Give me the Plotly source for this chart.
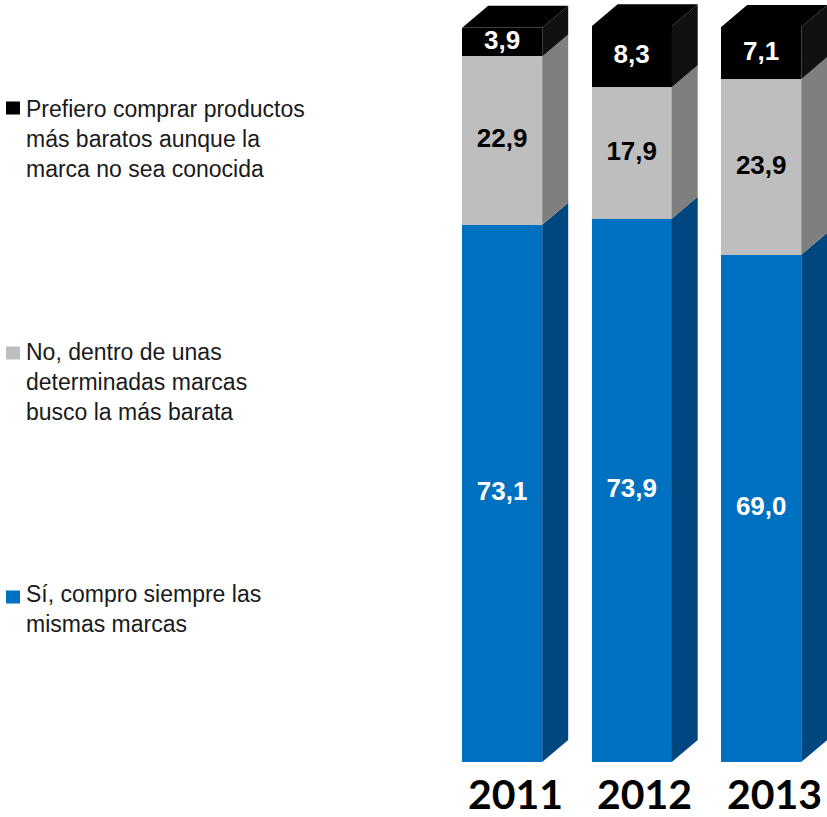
import plotly.graph_objects as go

years = ["2011", "2012", "2013"]
series_names = [
    "Sí, compro siempre las<br>mismas marcas",
    "No, dentro de unas<br>determinadas marcas<br>busco la más barata",
    "Prefiero comprar productos<br>más baratos aunque la<br>marca no sea conocida",
]
siempre = [73.1, 73.9, 69.0]
dentro = [22.9, 17.9, 23.9]
prefiero = [3.9, 8.3, 7.1]

series = [siempre, dentro, prefiero]
front_colors = ["#0070C0", "#BEBEBE", "#000000"]
side_colors = ["#00467F", "#7F7F7F", "#111111"]
label_colors = ["white", "black", "white"]

W, H = 827, 817
px_per_y = 7.35
bottom_px = 762
xs = list(range(len(years)))
bar_w = 0.618
dx = 26 / 129.5
dy = 22 / px_per_y

fig = go.Figure()

# front faces
for vals, col in zip(series, front_colors):
    fig.add_trace(go.Bar(x=xs, y=vals, width=[bar_w] * len(xs), marker=dict(color=col, line=dict(width=0)),
                         hoverinfo="skip", showlegend=False))

# side faces + labels
base = [0.0] * len(xs)
for k, (vals, col) in enumerate(zip(series, side_colors)):
    px_, py_ = [], []
    for i in xs:
        xr = i + bar_w / 2
        y0 = base[i]
        y1 = base[i] + vals[i]
        px_ += [xr, xr + dx, xr + dx, xr, xr, None]
        py_ += [y0, y0 + dy, y1 + dy, y1, y0, None]
    fig.add_trace(go.Scatter(x=px_, y=py_, mode="lines", fill="toself", fillcolor=col,
                             line=dict(width=0, color=col), hoverinfo="skip", showlegend=False))
    mids = [base[i] + vals[i] / 2 for i in xs]
    fig.add_trace(go.Scatter(x=xs, y=mids, mode="text",
                             text=[f"{v:.1f}".replace(".", ",") for v in vals],
                             textfont=dict(family="Liberation Sans, Arial", size=26, color=label_colors[k],
                                           weight="bold"),
                             hoverinfo="skip", showlegend=False))
    base = [base[i] + vals[i] for i in xs]

# top faces
tx, ty = [], []
for i in xs:
    xl, xr = i - bar_w / 2, i + bar_w / 2
    t = base[i]
    tx += [xl, xl + dx, xr + dx, xr, xl, None]
    ty += [t, t + dy, t + dy, t, t, None]
fig.add_trace(go.Scatter(x=tx, y=ty, mode="lines", fill="toself", fillcolor="#000000",
                         line=dict(width=0, color="#000000"), hoverinfo="skip", showlegend=False))

# year labels
for i, yr in zip(xs, years):
    fig.add_annotation(x=i + 0.1, xref="x", y=1 - 793 / H, yref="paper", text=f"<b>{yr}</b>",
                       showarrow=False, font=dict(family="Lato", size=41, color="black"),
                       xanchor="center", yanchor="middle")

# custom legend (top to bottom: prefiero, dentro, siempre)
legend_items = [
    (series_names[2], front_colors[2], 108, 139),
    (series_names[1], front_colors[1], 353, 382),
    (series_names[0], front_colors[0], 597, 609),
]
for text, col, marker_y, block_y in legend_items:
    fig.add_shape(type="rect", xref="paper", yref="paper",
                  x0=6 / W, x1=20 / W, y0=1 - (marker_y + 6.5) / H, y1=1 - (marker_y - 6.5) / H,
                  fillcolor=col, line=dict(width=0))
    fig.add_annotation(x=24 / W, xref="paper", y=1 - block_y / H, yref="paper", text=text,
                       showarrow=False, align="left", xanchor="left", yanchor="middle",
                       font=dict(family="Liberation Sans, Arial", size=23, color="#1a1a1a"))

fig.update_layout(
    width=W, height=H,
    margin=dict(l=0, r=0, t=0, b=0),
    paper_bgcolor="white", plot_bgcolor="white",
    barmode="stack",
    xaxis=dict(domain=[440 / W, 1], range=[-0.48, 2.508], visible=False, fixedrange=True),
    yaxis=dict(domain=[(H - bottom_px) / H, 1], range=[0, bottom_px / px_per_y], visible=False, fixedrange=True),
    showlegend=False,
)

fig.write_html("out.html", config={"displayModeBar": False},
               post_script="document.body.style.margin='0';document.body.style.overflow='hidden';")
